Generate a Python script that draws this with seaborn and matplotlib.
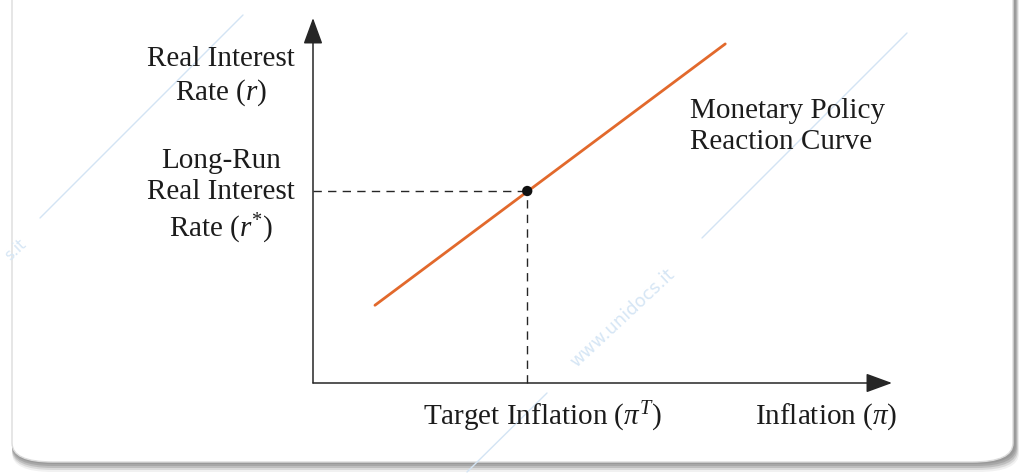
import matplotlib
matplotlib.use("Agg")
import matplotlib.pyplot as plt
import seaborn as sns
import numpy as np
from matplotlib.patches import FancyBboxPatch
from matplotlib.lines import Line2D

# ---- data (in arbitrary chart units) ----
curve_inflation = [1.07, 7.12]
curve_rate = [2.13, 9.29]
target_inflation = 3.70
long_run_rate = 5.26
y_label = "Real Interest\nRate ($r$)"
r_star_label = "Long-Run\nReal Interest\nRate ($r^{*}$)"
curve_label = "Monetary Policy\nReaction Curve"
target_label = r"Target Inflation ($\pi^{T}$)"
x_label = r"Inflation ($\pi$)"

sns.set_theme(style="white")
plt.rcParams["font.family"] = ["Liberation Serif", "DejaVu Serif"]
plt.rcParams["mathtext.fontset"] = "custom"
plt.rcParams["mathtext.rm"] = "Liberation Serif"
plt.rcParams["mathtext.it"] = "Liberation Serif:italic"

W, H = 1021, 473
fig = plt.figure(figsize=(W / 100, H / 100), dpi=100)
fig.patch.set_facecolor("white")

# card with shadow
for off, a in [(10, 0.12), (8, 0.22), (6, 0.35), (4, 0.45), (2, 0.5)]:
    fig.patches.append(FancyBboxPatch((12 / W, (473 - 462 - off) / H), (1003 + off * 0.4) / W, 1.2,
                                      boxstyle="round,pad=0,rounding_size=0.04",
                                      transform=fig.transFigure, facecolor="#8c8c8c",
                                      edgecolor="none", alpha=a, zorder=0))
fig.patches.append(FancyBboxPatch((12 / W, (473 - 462) / H), 1001 / W, 1.2,
                                  boxstyle="round,pad=0,rounding_size=0.04",
                                  transform=fig.transFigure, facecolor="white",
                                  edgecolor="#dcdcdc", lw=1.0, zorder=0.5))

# faint watermark lines / text
wm = "#d3e4f4"
for (x0, y0, x1, y1) in [(40, 218, 243, 15), (702, 238, 907, 33), (467, 472, 547, 393)]:
    fig.add_artist(Line2D([x0 / W, x1 / W], [1 - y0 / H, 1 - y1 / H], transform=fig.transFigure,
                          color=wm, lw=1.0, zorder=0.6))
fig.text(622 / W, 1 - 318 / H, "www.unidocs.it", rotation=43, color="#d6e6f5",
         fontsize=13, family="DejaVu Sans", ha="center", va="center", zorder=0.6)
fig.text(16 / W, 1 - 250 / H, "s.it", rotation=43, color="#d6e6f5",
         fontsize=11, family="DejaVu Sans", ha="center", va="center", zorder=0.6)

# axes area: origin at (313,383) px, x tip 892 px, y tip 18 px
ax = fig.add_axes([313 / W, (473 - 383) / H, (892 - 313) / W, (383 - 18) / H])
ax.set_xlim(0, 10)
ax.set_ylim(0, 10)
ax.patch.set_alpha(0)
for s in ax.spines.values():
    s.set_visible(False)
ax.set_xticks([])
ax.set_yticks([])
ax.set_zorder(2)

axis_col = "#262626"
arrow = dict(arrowstyle="-|>,head_length=0.9,head_width=0.33", color=axis_col, lw=1.1,
             shrinkA=0, shrinkB=0, mutation_scale=18)
ax.annotate("", xy=(10, 0), xytext=(0, 0), arrowprops=arrow, annotation_clip=False)
ax.annotate("", xy=(0, 10), xytext=(0, 0), arrowprops=arrow, annotation_clip=False)

# dashed guides
ax.plot([0, target_inflation], [long_run_rate, long_run_rate], color=axis_col, lw=1.0,
        dashes=(6, 4.5), clip_on=False)
ax.plot([target_inflation, target_inflation], [0, long_run_rate], color=axis_col, lw=1.0,
        dashes=(6, 4.5), clip_on=False)

# reaction curve
sns.lineplot(x=curve_inflation, y=curve_rate, ax=ax, color="#e2692c", lw=2.0)
sns.scatterplot(x=[target_inflation], y=[long_run_rate], ax=ax, color="#111111", s=55,
                edgecolor="none", zorder=5)

fs = 21
tc = "#1c1c1c"
ls = 1.26
ax.text(-1.59, 8.38, y_label, ha="center", va="center", fontsize=fs, color=tc,
        linespacing=ls, clip_on=False)
ax.text(-1.59, 5.10, r_star_label, ha="center", va="center", fontsize=fs, color=tc,
        linespacing=ls, clip_on=False)
ax.text(6.51, 7.03, curve_label, ha="left", va="center", fontsize=fs, color=tc,
        linespacing=ls, clip_on=False)
ax.text(3.96, -0.93, target_label, ha="center", va="center", fontsize=fs, color=tc,
        clip_on=False)
ax.text(8.86, -0.93, x_label, ha="center", va="center", fontsize=fs, color=tc,
        clip_on=False)

fig.savefig("out.png", dpi=100, facecolor="white")
